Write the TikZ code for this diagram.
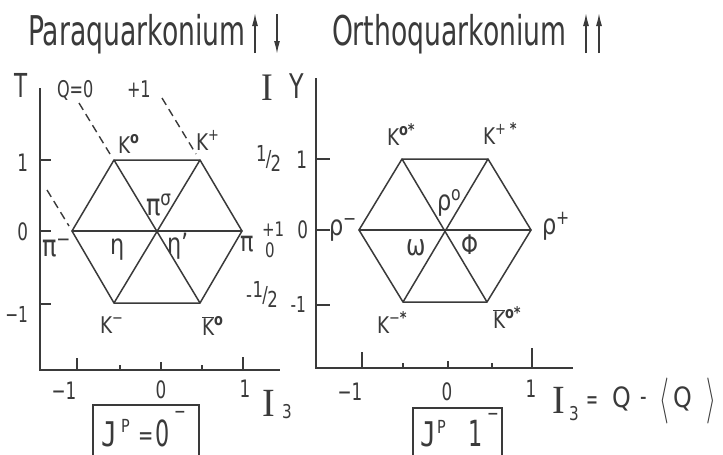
\documentclass[tikz,border=0pt]{standalone}
\usepackage{fontspec}
\setmainfont{DejaVu Sans}
\newfontfamily\serifI{Liberation Serif}
\newfontfamily\monoJ{DejaVu Sans Mono}
\usetikzlibrary{arrows.meta}
\definecolor{ink}{RGB}{58,58,58}
\newcommand\myfs[1]{\fontsize{#1}{#1}\selectfont}
\newcommand\kbar{$\overline{\hbox{K}}$}
\begin{document}
\begin{tikzpicture}[x=1pt,y=-1pt,
  lb/.style={inner sep=0pt, outer sep=0pt, text=ink, anchor=base west},
  axis/.style={draw=ink, line width=1.6pt},
  hexl/.style={draw=ink, line width=1.5pt, line join=round, line cap=round},
  dsh/.style={draw=ink, line width=1.4pt, dash pattern=on 8pt off 5pt},
  spin/.style={draw=ink, line width=1.5pt, -{Latex[length=13pt,width=6pt]}},
  tick/.style={draw=ink, line width=1.4pt},
  boxl/.style={draw=ink, line width=1.6pt},
]
\useasboundingbox (0,0) rectangle (723,455);
\fill[white] (0,0) rectangle (723,455);

% ---------- titles ----------
\node[lb, font=\myfs{41}, xscale=0.65] (tp) at (28,45) {Paraquarkonium};
\node[lb, font=\myfs{41}, xscale=0.65] (to) at (332,45) {Orthoquarkonium};
\coordinate (pa1) at (255,53); \coordinate (pa2) at (255,13);
\coordinate (pb1) at (277,14); \coordinate (pb2) at (277,54);
\coordinate (oa1) at (586,53); \coordinate (oa2) at (586,13);
\coordinate (ob1) at (599,53); \coordinate (ob2) at (599,13);
\draw[spin] (pa1) -- (pa2);
\draw[spin] (pb1) -- (pb2);
\draw[spin] (oa1) -- (oa2);
\draw[spin] (ob1) -- (ob2);

% ---------- left plot ----------
\coordinate (lA) at (40,88);
\coordinate (lO) at (40,370);
\coordinate (lE) at (280,370);
\draw[axis] (lA) -- (lO) -- (lE);
\foreach \yy in {160,231,304} \draw[tick] (40,\yy) -- (51,\yy);
\foreach \xx/\hh in {77/12,120/5,161/8,202/5,243/13} \draw[tick] (\xx,370) -- (\xx,370-\hh);

\coordinate (C) at (157,231);
\coordinate (L) at (72,231);
\coordinate (R) at (242,231);
\coordinate (TL) at (114,160);
\coordinate (TR) at (200,160);
\coordinate (BL) at (114,303);
\coordinate (BR) at (200,303);
\draw[hexl] (TL) -- (TR) -- (R) -- (BR) -- (BL) -- (L) -- cycle;
\draw[hexl] (L) -- (R);
\draw[hexl] (TL) -- (BR);
\draw[hexl] (TR) -- (BL);

\coordinate (q0a) at (79,103); \coordinate (q0b) at (110,154);
\coordinate (q1a) at (162,98); \coordinate (q1b) at (196,154);
\coordinate (qma) at (47,190); \coordinate (qmb) at (69,226);
\draw[dsh] (q0a) -- (q0b);
\draw[dsh] (q1a) -- (q1b);
\draw[dsh] (qma) -- (qmb);

\node[lb, font=\myfs{33}, xscale=0.65] (tT) at (14,97) {T};
\node[lb, font=\myfs{23}, xscale=0.7] (tQ0) at (57,97) {Q=0};
\node[lb, font=\myfs{23}, xscale=0.7] (tQ1) at (127,97) {+1};

\node[lb, font=\myfs{24}, xscale=0.7, anchor=base east] (ly1) at (28,171) {1};
\node[lb, font=\myfs{24}, xscale=0.7, anchor=base east] (ly0) at (28,240) {0};
\node[lb, font=\myfs{22}, xscale=0.7, anchor=base east] (lym) at (28,322) {−1};
\node[lb, font=\myfs{24}, xscale=0.7, anchor=base] (lxm) at (64,399) {−1};
\node[lb, font=\myfs{24}, xscale=0.7, anchor=base] (lx0) at (161,398) {0};
\node[lb, font=\myfs{24}, xscale=0.7, anchor=base] (lx1) at (245,397) {1};

\node[lb, font=\myfs{23}, xscale=0.8] (kz) at (118,153) {K\textsuperscript{\textbf{o}}};
\node[lb, font=\myfs{23}, xscale=0.8] (kp) at (196,150) {K\textsuperscript{+}};
\node[lb, font=\myfs{30}, xscale=0.8] (piz) at (146,215) {π\textsuperscript{σ}};
\node[lb, font=\myfs{30}, xscale=0.8] (pim) at (42,256) {π\textsuperscript{−}};
\node[lb, font=\myfs{28}, xscale=0.8] (eta) at (110,254) {η};
\node[lb, font=\myfs{28}, xscale=0.8] (etap) at (167,253) {η'};
\node[lb, font=\myfs{28}, xscale=0.8] (pip) at (240,251) {π};
\node[lb, font=\myfs{20}, xscale=0.75] (pipa) at (262,236) {+1};
\node[lb, font=\myfs{20}, xscale=0.75] (pipb) at (265,257) {0};
\node[lb, font=\myfs{23}, xscale=0.8] (km) at (100,333) {K\textsuperscript{−}};
\node[lb, font=\myfs{23}, xscale=0.8] (kbz) at (202,335) {\kbar\textsuperscript{\textbf{o}}};

% I column
\node[lb, font=\myfs{39}, xscale=0.9] (tI) at (261,100) {\serifI I};
\node[lb, font=\myfs{34}, xscale=0.7] (tY) at (289,98) {Y};
\node[lb, font=\myfs{22}, xscale=0.75] (hhalf) at (256,166) {\raisebox{5pt}{1}\kern-1pt/\kern-1pt\raisebox{-5pt}{2}};
\node[lb, font=\myfs{22}, xscale=0.75] (mhalf) at (246,302) {-\kern1pt\raisebox{5pt}{1}\kern-1pt/\kern-1pt\raisebox{-5pt}{2}};

\node[lb, font=\myfs{40}, xscale=0.95] (lI3) at (262,416) {\serifI I};
\node[lb, font=\myfs{19}, xscale=0.8] (lI3s) at (282,418) {3};

\draw[boxl] (93,457) -- (93,405) -- (199,405) -- (199,457);
\node[lb, font=\myfs{34}, xscale=0.78] (bJ1) at (101,446) {\monoJ J};
\node[lb, font=\myfs{18}, xscale=0.8] (bP1) at (121,432) {P};
\node[lb, font=\myfs{26}, xscale=0.7] (bE1) at (138,444) {=};
\node[lb, font=\myfs{36}, xscale=0.62] (b01) at (155,446) {0};
\node[lb, font=\myfs{20}, xscale=0.7] (bm1) at (174,418) {−};

% ---------- right plot ----------
\coordinate (rA) at (316,78);
\coordinate (rO) at (316,368);
\coordinate (rE) at (573,368);
\draw[axis] (rA) -- (rO) -- (rE);
\foreach \yy in {159,230,305} \draw[tick] (316,\yy) -- (330,\yy);
\foreach \xx/\hh in {362/16,403/5,448/7,492/5,532/20} \draw[tick] (\xx,368) -- (\xx,368-\hh);

\coordinate (C2) at (445,230);
\coordinate (L2) at (359,230);
\coordinate (R2) at (531,230);
\coordinate (TL2) at (402,159);
\coordinate (TR2) at (488,159);
\coordinate (BL2) at (403,302);
\coordinate (BR2) at (487,302);
\draw[hexl] (TL2) -- (TR2) -- (R2) -- (BR2) -- (BL2) -- (L2) -- cycle;
\draw[hexl] (L2) -- (R2);
\draw[hexl] (TL2) -- (BR2);
\draw[hexl] (TR2) -- (BL2);

\node[lb, font=\myfs{24}, xscale=0.7, anchor=base east] (ry1) at (307,168) {1};
\node[lb, font=\myfs{24}, xscale=0.7, anchor=base east] (ry0) at (308,238) {0};
\node[lb, font=\myfs{22}, xscale=0.7, anchor=base east] (rym) at (306,312) {-1};
\node[lb, font=\myfs{24}, xscale=0.7, anchor=base] (rxm) at (350,400) {−1};
\node[lb, font=\myfs{24}, xscale=0.7, anchor=base] (rx0) at (447,400) {0};
\node[lb, font=\myfs{24}, xscale=0.7, anchor=base] (rx1) at (531,397) {1};

\node[lb, font=\myfs{23}, xscale=0.8] (kzs) at (387,145) {K\textsuperscript{\textbf{o*}}};
\node[lb, font=\myfs{23}, xscale=0.8] (kps) at (483,144) {K\textsuperscript{+ \textbf{*}}};
\node[lb, font=\myfs{28}, xscale=0.8] (rhoz) at (437,210) {ρ\textsuperscript{o}};
\node[lb, font=\myfs{28}, xscale=0.8] (rhom) at (329,235) {ρ\textsuperscript{−}};
\node[lb, font=\myfs{28}, xscale=0.8] (rhop) at (542,234) {ρ\textsuperscript{+}};
\node[lb, font=\myfs{29}, xscale=0.8] (om) at (406,255) {ω};
\node[lb, font=\myfs{27}, xscale=0.8] (ph) at (461,254) {Φ};
\node[lb, font=\myfs{23}, xscale=0.8] (kms) at (377,333) {K\textsuperscript{−\textbf{*}}};
\node[lb, font=\myfs{23}, xscale=0.8] (kbzs) at (493,328) {\kbar\textsuperscript{\textbf{o*}}};

\node[lb, font=\myfs{40}, xscale=0.95] (rI3) at (552,413) {\serifI I};
\node[lb, font=\myfs{19}, xscale=0.8] (rI3s) at (569,420) {3};
\node[lb, font=\myfs{26}, xscale=0.55] (req) at (586,408) {=};
\node[lb, font=\myfs{28}, xscale=0.85] (rq1) at (612,407) {Q};
\node[lb, font=\myfs{26}, xscale=0.7] (rmi) at (640,405) {-};
\node[lb, font=\myfs{24}, xscale=1.0, yscale=1.85] (rla) at (659,412) {$\langle$};
\node[lb, font=\myfs{28}, xscale=0.85] (rq2) at (673,407) {Q};
\node[lb, font=\myfs{24}, xscale=1.0, yscale=1.85] (rra) at (706,412) {$\rangle$};

\draw[boxl] (413,457) -- (413,408) -- (502,408) -- (502,457);
\node[lb, font=\myfs{34}, xscale=0.78] (bJ2) at (420,446) {\monoJ J};
\node[lb, font=\myfs{18}, xscale=0.8] (bP2) at (437,433) {P};
\node[lb, font=\myfs{36}, xscale=0.62] (b12) at (468,446) {1};
\node[lb, font=\myfs{20}, xscale=0.7] (bm2) at (487,420) {−};
\end{tikzpicture}
\end{document}
